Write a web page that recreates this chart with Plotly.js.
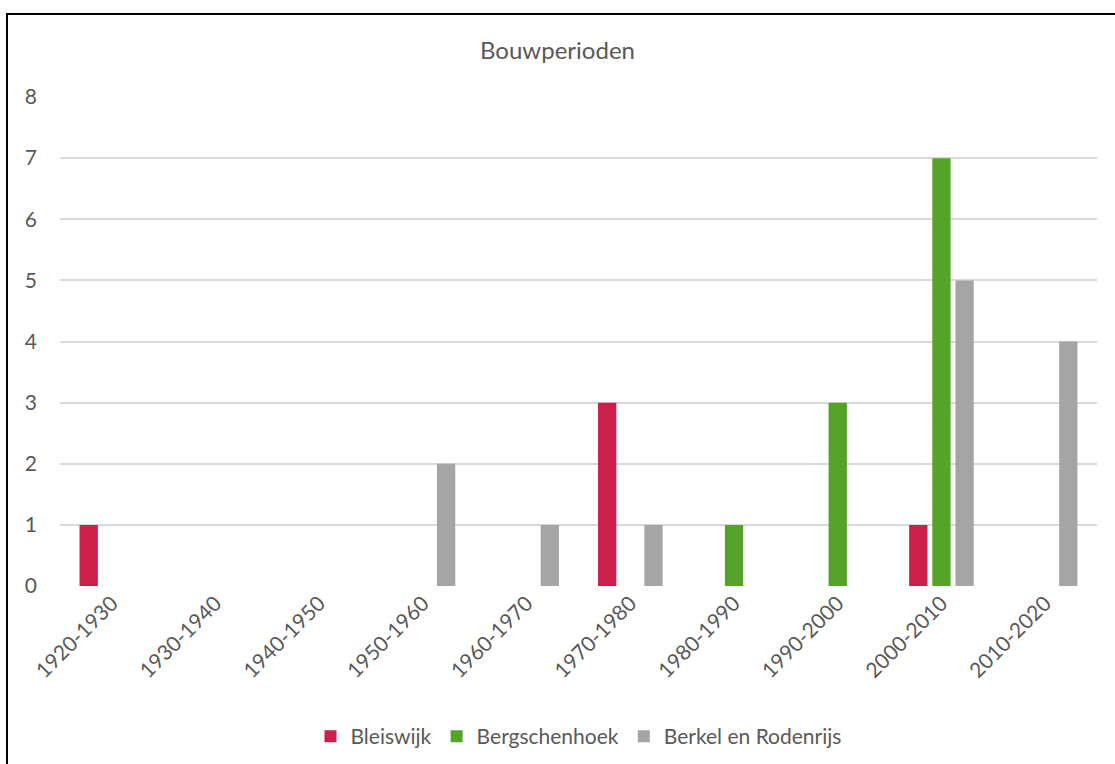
<!DOCTYPE html>
<html>
<head>
<meta charset="utf-8">
<script src="https://cdn.plot.ly/plotly-3.0.1.min.js"></script>
<style>
html,body{margin:0;padding:0;background:#fff;}
#chart{width:1115px;height:764px;}
</style>
</head>
<body>
<div id="chart"></div>
<script>
const categories = ["1920-1930","1930-1940","1940-1950","1950-1960","1960-1970","1970-1980","1980-1990","1990-2000","2000-2010","2010-2020"];
const bleiswijk = [1,0,0,0,0,3,0,0,1,0];
const bergschenhoek = [0,0,0,0,0,0,1,3,7,0];
const berkelEnRodenrijs = [0,0,0,2,1,1,0,0,5,4];
const yTicks = [0,1,2,3,4,5,6,7,8];

const textColor = "#595959";
const fontFam = "Lato, 'Open Sans', sans-serif";

const traces = [
  {type:"bar", name:"Bleiswijk", x:categories, y:bleiswijk, marker:{color:"#CC1F4A"}},
  {type:"bar", name:"Bergschenhoek", x:categories, y:bergschenhoek, marker:{color:"#55A329"}},
  {type:"bar", name:"Berkel en Rodenrijs", x:categories, y:berkelEnRodenrijs, marker:{color:"#A5A5A5"}}
];

const layout = {
  width:1115, height:764,
  paper_bgcolor:"#fff", plot_bgcolor:"#fff",
  margin:{l:60, r:18, t:97, b:178, autoexpand:false},
  font:{family:fontFam, color:textColor, size:21},
  title:{text:"Bouwperioden", x:0.5, xanchor:"center", y:0.934, yanchor:"middle", font:{size:24, color:textColor, family:fontFam}},
  barmode:"group",
  bargap:0.33,
  bargroupgap:0.21,
  xaxis:{
    type:"category",
    tickangle:-45,
    showgrid:false,
    showline:false,
    zeroline:false,
    ticks:"",
    tickfont:{size:21, color:textColor},
    automargin:false
  },
  yaxis:{
    range:[0,8],
    tickvals:yTicks,
    showgrid:true,
    gridcolor:"#D9D9D9",
    gridwidth:2,
    zeroline:false,
    showline:false,
    ticks:"",
    ticklabelstandoff:22,
    tickfont:{size:21, color:textColor},
    automargin:false
  },
  showlegend:true,
  legend:{orientation:"h", x:0.5, xanchor:"center", yref:"container", y:0.036, yanchor:"middle", font:{size:21, color:textColor}, itemwidth:30, traceorder:"normal"},
  shapes:[
    {type:"rect", xref:"paper", yref:"paper", x0:-0.0511, x1:1.2, y0:-0.6, y1:1.1697, line:{color:"#000", width:2}, fillcolor:"rgba(0,0,0,0)", layer:"above"}
  ]
};

Plotly.newPlot("chart", traces, layout, {displayModeBar:false, staticPlot:true});
</script>
</body>
</html>
